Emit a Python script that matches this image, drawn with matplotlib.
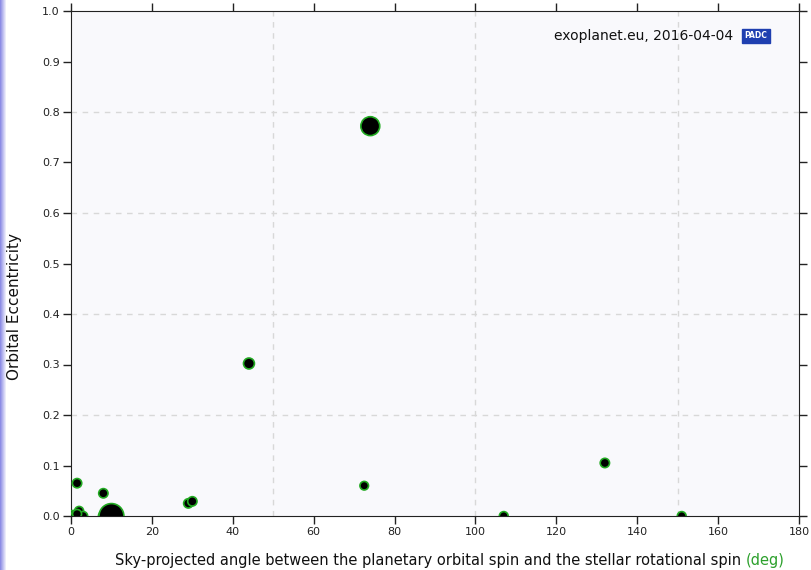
import matplotlib
matplotlib.use("Agg")
import matplotlib.pyplot as plt
import numpy as np

# sky-projected spin-orbit angle (deg) vs orbital eccentricity
angle = [1.5, 8.0, 29.0, 30.0, 44.0, 72.5, 74.0, 132.0, 107.0, 151.0,
         0.5, 1.0, 2.0, 3.0, 1.5, 8.0, 10.0]
ecc = [0.065, 0.045, 0.025, 0.029, 0.302, 0.06, 0.772, 0.105, 0.0, 0.0,
       0.002, 0.0, 0.01, 0.0, 0.004, 0.0, 0.0]
# marker sizes (points^2), bigger = heavier planet
sizes = [45, 45, 45, 45, 62, 38, 185, 45, 40, 40, 42, 42, 42, 42, 42, 50, 320]

fig = plt.figure(figsize=(8.12, 5.7), dpi=100)
ax = fig.add_axes([71/812, 1-516/570, 728/812, 505/570])
ax.set_facecolor("#f9f9fc")

# purple strip at the left edge
grad = np.linspace(0, 1, 50).reshape(1, -1)
strip = fig.add_axes([0, 0, 6/812, 1])
strip.imshow(grad, aspect="auto", cmap=matplotlib.colors.LinearSegmentedColormap.from_list("s", ["#8484e4", "#f4f4fc"]))
strip.axis("off")

ax.scatter(angle, ecc, s=sizes, c="black", edgecolors="#22aa22", linewidths=1.2, zorder=3)

ax.set_xlim(0, 180)
ax.set_ylim(0, 1.0)
ax.set_xticks(range(0, 181, 20))
ax.set_yticks(np.arange(0, 1.01, 0.1))
ax.set_yticklabels(["%.1f" % v for v in np.arange(0, 1.01, 0.1)])
ax.xaxis.remove_overlapping_locs = False
ax.yaxis.remove_overlapping_locs = False
ax.set_xticks([50, 100, 150], minor=True)
ax.set_yticks([0.2, 0.4, 0.6, 0.8], minor=True)
ax.grid(True, which="minor", color="#d8d8d8", linestyle=(0, (4, 4)), linewidth=1)
ax.tick_params(which="minor", length=0)
ax.tick_params(which="major", direction="out", length=6, width=1, labelsize=8,
               top=True, right=True, colors="#222222", pad=2)
for sp in ax.spines.values():
    sp.set_color("#222222")

fig.text(15/812, 1-307/570, "Orbital Eccentricity", rotation=90, ha="center", va="center",
         fontsize=11, color="#111111")

fig.text(746/812, 1-561/570, "Sky-projected angle between the planetary orbital spin and the stellar rotational spin ",
         ha="right", va="center", fontsize=10.5, color="#111111")
fig.text(746/812, 1-561/570, "(deg)", ha="left", va="center", fontsize=10.5, color="#2ca02c")

ax.text(733/812, 1-36/570, "exoplanet.eu, 2016-04-04", transform=fig.transFigure,
        ha="right", va="center", fontsize=10, color="#111111")
ax.text(756/812, 1-36/570, "PADC", transform=fig.transFigure, ha="center", va="center",
        fontsize=5.5, color="white", fontweight="bold",
        bbox=dict(boxstyle="square,pad=0.3", fc="#1f3fb0", ec="#1f3fb0"))

fig.savefig("out.png", dpi=100)
